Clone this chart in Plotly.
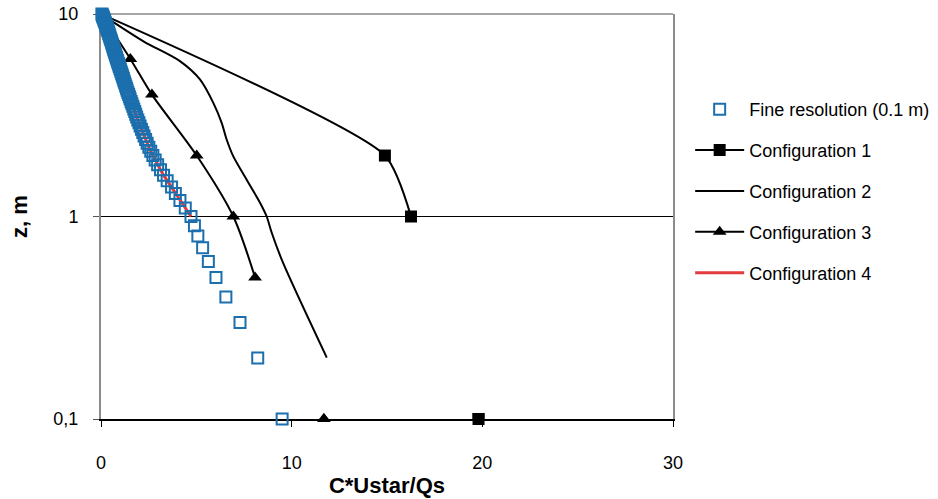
import plotly.graph_objects as go

# ---------------- data ----------------
fine_z = [0.1, 0.2, 0.3, 0.4, 0.5, 0.6, 0.7, 0.8, 0.9, 1.0,
          1.1, 1.2, 1.3, 1.4, 1.5, 1.6, 1.7, 1.8, 1.9, 2.0,
          2.1, 2.2, 2.3, 2.4, 2.5, 2.6, 2.7, 2.8, 2.9, 3.0,
          3.1, 3.2, 3.3, 3.4, 3.5, 3.6, 3.7, 3.8, 3.9, 4.0,
          4.1, 4.2, 4.3, 4.4, 4.5, 4.6, 4.7, 4.8, 4.9, 5.0,
          5.1, 5.2, 5.3, 5.4, 5.5, 5.6, 5.7, 5.8, 5.9, 6.0,
          6.1, 6.2, 6.3, 6.4, 6.5, 6.6, 6.7, 6.8, 6.9, 7.0,
          7.1, 7.2, 7.3, 7.4, 7.5, 7.6, 7.7, 7.8, 7.9, 8.0,
          8.1, 8.2, 8.3, 8.4, 8.5, 8.6, 8.7, 8.8, 8.9, 9.0,
          9.1, 9.2, 9.3, 9.4, 9.5, 9.6, 9.7, 9.8, 9.9, 10.0]
fine_x = [9.50, 8.22, 7.29, 6.55, 6.03, 5.63, 5.33, 5.08, 4.90, 4.72,
          4.42, 4.14, 3.90, 3.70, 3.47, 3.28, 3.12, 2.97, 2.84, 2.72,
          2.61, 2.51, 2.42, 2.34, 2.26, 2.19, 2.12, 2.05, 1.99, 1.93,
          1.87, 1.82, 1.77, 1.72, 1.67, 1.62, 1.58, 1.53, 1.49, 1.45,
          1.41, 1.37, 1.34, 1.30, 1.27, 1.23, 1.20, 1.17, 1.14, 1.11,
          1.08, 1.05, 1.02, 0.99, 0.96, 0.94, 0.91, 0.88, 0.86, 0.83,
          0.81, 0.78, 0.76, 0.74, 0.71, 0.69, 0.67, 0.65, 0.63, 0.61,
          0.59, 0.57, 0.55, 0.53, 0.51, 0.49, 0.47, 0.45, 0.43, 0.41,
          0.40, 0.38, 0.36, 0.34, 0.32, 0.30, 0.28, 0.26, 0.25, 0.23,
          0.21, 0.19, 0.17, 0.16, 0.14, 0.12, 0.10, 0.09, 0.07, 0.05]

conf1_z = [10, 2, 1, None, 0.1]
conf1_x = [0, 14.89, 16.26, None, 19.8]

conf2_z = [10, 7.31, 5.85, 4.75, 3.64, 2.9, 2.4, 1.98, 1.52, 1.17, 1.0, 0.834, 0.593, 0.201]
conf2_x = [0, 2.25, 4.14, 5.19, 5.89, 6.33, 6.59, 6.94, 7.64, 8.34, 8.69, 8.95, 9.54, 11.84]

conf3_z = [10, 6, 4, 2, 1, 0.5, None, 0.1]
conf3_x = [0, 1.54, 2.67, 5.02, 6.94, 8.08, None, 11.69]

conf4_z = fine_z[9:]
conf4_x = fine_x[9:]

names = ["Fine resolution (0.1 m)", "Configuration 1", "Configuration 2",
         "Configuration 3", "Configuration 4"]

x_ticks = [0, 10, 20, 30]
y_tickvals = [0.1, 1, 10]
y_ticktext = ["0,1", "1", "10"]

x_title = "C*Ustar/Qs"
y_title = "z, m"

# ---------------- figure ----------------
FONT = "Liberation Sans, Arial, sans-serif"
BLUE = "#1B6FAD"
RED = "#E53B3F"

fig = go.Figure()

fig.add_trace(go.Scatter(
    x=conf4_x, y=conf4_z, mode="lines", name=names[4],
    line=dict(color=RED, width=3), legendgroup="g5", legendrank=5))

fig.add_trace(go.Scatter(
    x=conf1_x, y=conf1_z, mode="lines+markers", name=names[1],
    line=dict(color="black", width=2, shape="spline", smoothing=0.6),
    marker=dict(symbol="square", size=12, color="black"),
    legendgroup="g2", legendrank=2))
# unclipped copy of the marker that sits on the bottom axis
fig.add_trace(go.Scatter(
    x=conf1_x[-1:], y=conf1_z[-1:], mode="markers", showlegend=False,
    marker=dict(symbol="square", size=12, color="black"),
    cliponaxis=False, legendgroup="g2", hoverinfo="skip"))

fig.add_trace(go.Scatter(
    x=conf2_x, y=conf2_z, mode="lines", name=names[2],
    line=dict(color="black", width=2, shape="spline", smoothing=0.8),
    legendgroup="g3", legendrank=3))

fig.add_trace(go.Scatter(
    x=conf3_x, y=conf3_z, mode="lines+markers", name=names[3],
    line=dict(color="black", width=2, shape="spline", smoothing=0.8),
    marker=dict(symbol="triangle-up", size=12, color="black"),
    legendgroup="g4", legendrank=4))
fig.add_trace(go.Scatter(
    x=conf3_x[-1:], y=conf3_z[-1:], mode="markers", showlegend=False,
    marker=dict(symbol="triangle-up", size=12, color="black"),
    cliponaxis=False, legendgroup="g4", hoverinfo="skip"))

fig.add_trace(go.Scatter(
    x=fine_x, y=fine_z, mode="markers", name=names[0],
    marker=dict(symbol="square-open", size=11, color=BLUE,
                line=dict(color=BLUE, width=2)),
    cliponaxis=False, legendgroup="g1", legendrank=1))

fig.update_layout(
    width=938, height=499,
    margin=dict(l=101, r=265, t=14, b=80, autoexpand=False),
    paper_bgcolor="white", plot_bgcolor="white",
    font=dict(family=FONT, size=18, color="black"),
    showlegend=True,
    legend=dict(x=1.03, y=0.81, xanchor="left", yanchor="top",
                traceorder="grouped", tracegroupgap=14.5, itemwidth=49,
                font=dict(family=FONT, size=18, color="black"),
                bgcolor="rgba(0,0,0,0)"),
    xaxis=dict(range=[0, 30], tickvals=x_ticks, ticks="outside", ticklen=6,
               tickcolor="black", showgrid=False, zeroline=False,
               showline=True, linecolor="black", linewidth=2,
               ticklabelstandoff=20, automargin=False, layer="below traces",
               title=dict(text="<b>" + x_title + "</b>",
                          font=dict(family=FONT, size=22), standoff=6)),
    yaxis=dict(type="log", range=[-1, 1], tickvals=y_tickvals,
               ticktext=y_ticktext, ticks="outside", ticklen=6,
               tickcolor="#555555", showgrid=True, gridcolor="black",
               gridwidth=1, zeroline=False, showline=True,
               linecolor="#8C8C8C", linewidth=2, mirror=True,
               ticklabelstandoff=11, automargin=False, layer="below traces",
               title=dict(text="<b>" + y_title + "</b>",
                          font=dict(family=FONT, size=22), standoff=20)),
    shapes=[dict(type="line", xref="paper", yref="paper", x0=0, x1=1,
                 y0=1, y1=1, layer="below",
                 line=dict(color="#A6A6A6", width=2))],
)

fig.write_html("out.html")
